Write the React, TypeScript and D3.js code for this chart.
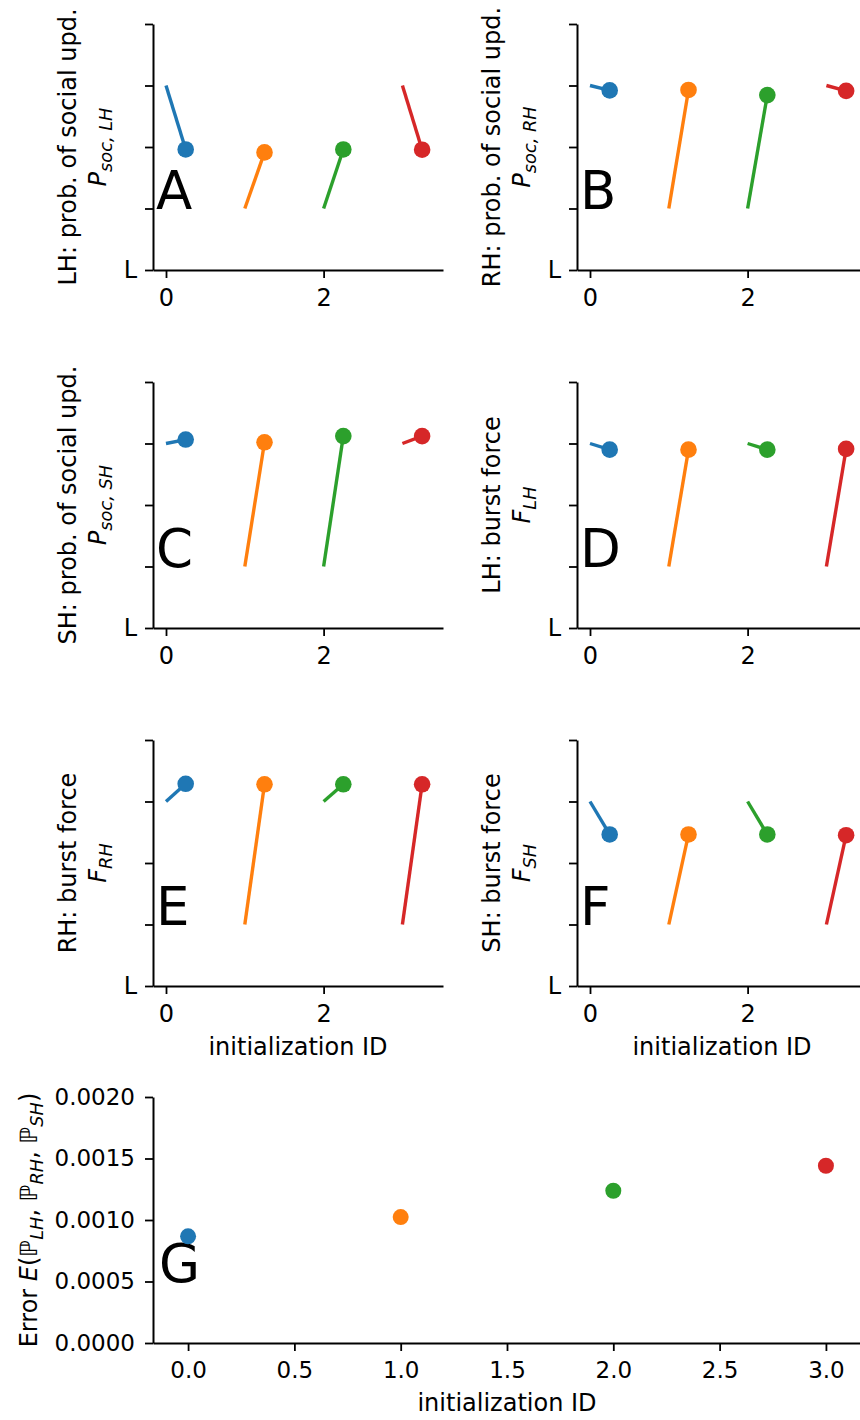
import * as d3 from 'd3';
import { useRef, useEffect } from 'react';

const WIDTH = 860;
const HEIGHT = 1420;
const FONT = '"DejaVu Sans", "Liberation Sans", sans-serif';

const colors = ['#1f77b4', '#ff7f0e', '#2ca02c', '#d62728'];
const initIds = [0, 1, 2, 3];
const dotShift = 0.25;

// panels A-F
const panelLetters = ['A', 'B', 'C', 'D', 'E', 'F'];
const labelTexts = [
  'LH: prob. of social upd.',
  'RH: prob. of social upd.',
  'SH: prob. of social upd.',
  'LH: burst force',
  'RH: burst force',
  'SH: burst force',
];
const symbolMain = ['P', 'P', 'P', 'F', 'F', 'F'];
const symbolSub = ['soc, LH', 'soc, RH', 'soc, SH', 'LH', 'RH', 'SH'];

// initial value (line start) and fitted value (dot), per initialization ID
const startA = [0.75, 0.25, 0.25, 0.75];
const endA = [0.49, 0.478, 0.49, 0.489];
const startB = [0.75, 0.25, 0.25, 0.75];
const endB = [0.73, 0.732, 0.711, 0.728];
const startC = [0.75, 0.25, 0.25, 0.75];
const endC = [0.766, 0.755, 0.78, 0.78];
const startD = [0.75, 0.25, 0.75, 0.25];
const endD = [0.725, 0.725, 0.725, 0.728];
const startE = [0.75, 0.25, 0.75, 0.25];
const endE = [0.822, 0.82, 0.82, 0.82];
const startF = [0.75, 0.25, 0.75, 0.25];
const endF = [0.616, 0.616, 0.616, 0.613];

const starts = [startA, startB, startC, startD, startE, startF];
const ends = [endA, endB, endC, endD, endE, endF];

const levelTicks = [0, 0.25, 0.5, 0.75, 1];
const levelTickLabels = ['L', '', '', '', ''];
const idTicks = [0, 2];

// panel G
const errorValues = [0.000867, 0.001024, 0.001238, 0.001441];
const errorTicks = [0, 0.0005, 0.001, 0.0015, 0.002];
const idTicksG = [0, 0.5, 1, 1.5, 2, 2.5, 3];

type Part = { t: string; italic?: boolean; sub?: boolean };

function writeMath(text, parts: Part[], size: number) {
  const shift = size * 0.24;
  let down = false;
  parts.forEach(p => {
    const ts = text.append('tspan').text(p.t);
    if (p.italic) ts.attr('font-style', 'italic');
    if (p.sub) {
      ts.attr('font-size', size * 0.74);
      if (!down) ts.attr('dy', shift);
      down = true;
    } else if (down) {
      ts.attr('dy', -shift);
      down = false;
    }
  });
}

function styleAxis(g, size: number) {
  g.attr('font-family', FONT);
  g.select('.domain').attr('stroke', '#000').attr('stroke-width', 2);
  g.selectAll('.tick line').attr('stroke', '#000').attr('stroke-width', 1.8);
  g.selectAll('.tick text').attr('fill', '#000').attr('font-size', size);
}

function App() {
  const svgRef = useRef(null);

  useEffect(() => {
    const svg = d3.select(svgRef.current);
    svg.selectAll('*').remove();

    const panelW = 290;
    const panelH = 246;
    const lefts = [153, 577];
    const tops = [24, 382, 740];

    panelLetters.forEach((letter, i) => {
      const left = lefts[i % 2];
      const top = tops[Math.floor(i / 2)];
      const x = d3.scaleLinear().domain([-0.165, 3.515]).range([left, left + panelW]);
      const y = d3.scaleLinear().domain([0, 1]).range([top + panelH, top]);
      const g = svg.append('g');

      const ax = g.append('g')
        .attr('transform', `translate(0,${top + panelH})`)
        .call(d3.axisBottom(x).tickValues(idTicks).tickFormat(d3.format('d')).tickSize(8).tickSizeOuter(0).tickPadding(11));
      styleAxis(ax, 24);

      const ay = g.append('g')
        .attr('transform', `translate(${left},0)`)
        .call(d3.axisLeft(y).tickValues(levelTicks).tickFormat((d, k) => levelTickLabels[k]).tickSize(8).tickSizeOuter(0).tickPadding(8));
      styleAxis(ay, 24);

      // y label, two lines
      const cy = top + panelH / 2;
      g.append('text')
        .attr('transform', `translate(${left - 77},${cy}) rotate(-90)`)
        .attr('text-anchor', 'middle')
        .attr('font-family', FONT)
        .attr('font-size', 24)
        .text(labelTexts[i]);
      const t2 = g.append('text')
        .attr('transform', `translate(${left - 47},${cy}) rotate(-90)`)
        .attr('text-anchor', 'middle')
        .attr('font-family', FONT)
        .attr('font-size', 24);
      writeMath(t2, [{ t: symbolMain[i], italic: true }, { t: symbolSub[i], italic: true, sub: true }], 24);

      if (Math.floor(i / 2) === 2) {
        g.append('text')
          .attr('x', left + panelW / 2)
          .attr('y', top + panelH + 69)
          .attr('text-anchor', 'middle')
          .attr('font-family', FONT)
          .attr('font-size', 24)
          .text('initialization ID');
      }

      g.append('text')
        .attr('x', left + 3)
        .attr('y', y(0.25))
        .attr('font-family', FONT)
        .attr('font-size', 53)
        .text(letter);

      initIds.forEach((id, k) => {
        g.append('line')
          .attr('x1', x(id))
          .attr('y1', y(starts[i][k]))
          .attr('x2', x(id + dotShift))
          .attr('y2', y(ends[i][k]))
          .attr('stroke', colors[k])
          .attr('stroke-width', 3.4);
        g.append('circle')
          .attr('cx', x(id + dotShift))
          .attr('cy', y(ends[i][k]))
          .attr('r', 8.3)
          .attr('fill', colors[k]);
      });
    });

    // Panel G: error per initialization
    const gLeft = 153, gRight = 861, gTop = 1097, gBottom = 1343;
    const xg = d3.scaleLinear().domain([-0.165, 3.165]).range([gLeft, gRight]);
    const yg = d3.scaleLinear().domain([0, 0.002]).range([gBottom, gTop]);
    const gg = svg.append('g');

    const gx = gg.append('g')
      .attr('transform', `translate(0,${gBottom})`)
      .call(d3.axisBottom(xg).tickValues(idTicksG).tickFormat(d3.format('.1f')).tickSize(8).tickSizeOuter(0).tickPadding(11));
    styleAxis(gx, 23);
    const gy = gg.append('g')
      .attr('transform', `translate(${gLeft},0)`)
      .call(d3.axisLeft(yg).tickValues(errorTicks).tickFormat(d3.format('.4f')).tickSize(8).tickSizeOuter(0).tickPadding(10));
    styleAxis(gy, 23);

    gg.append('text')
      .attr('x', (gLeft + gRight) / 2)
      .attr('y', gBottom + 68)
      .attr('text-anchor', 'middle')
      .attr('font-family', FONT)
      .attr('font-size', 24)
      .text('initialization ID');

    const gl = gg.append('text')
      .attr('transform', `translate(37,${(gTop + gBottom) / 2}) rotate(-90)`)
      .attr('text-anchor', 'middle')
      .attr('font-family', FONT)
      .attr('font-size', 24);
    writeMath(gl, [
      { t: 'Error ' },
      { t: 'E', italic: true },
      { t: '(' },
      { t: 'ℙ', italic: true },
      { t: 'LH', italic: true, sub: true },
      { t: ', ' },
      { t: 'ℙ', italic: true },
      { t: 'RH', italic: true, sub: true },
      { t: ', ' },
      { t: 'ℙ', italic: true },
      { t: 'SH', italic: true, sub: true },
      { t: ')' },
    ], 24);

    gg.append('text')
      .attr('x', gLeft + 6)
      .attr('y', gBottom - 0.25 * (gBottom - gTop))
      .attr('font-family', FONT)
      .attr('font-size', 53)
      .text('G');

    gg.selectAll('circle.err')
      .data(errorValues)
      .enter()
      .append('circle')
      .attr('class', 'err')
      .attr('cx', (d, k) => xg(initIds[k]))
      .attr('cy', d => yg(d))
      .attr('r', 8)
      .attr('fill', (d, k) => colors[k]);
  }, []);

  return (
    <svg
      ref={svgRef}
      width={WIDTH}
      height={HEIGHT}
      style={{ position: 'absolute', left: 0, top: 0, background: '#fff' }}
    />
  );
}

export default App;
